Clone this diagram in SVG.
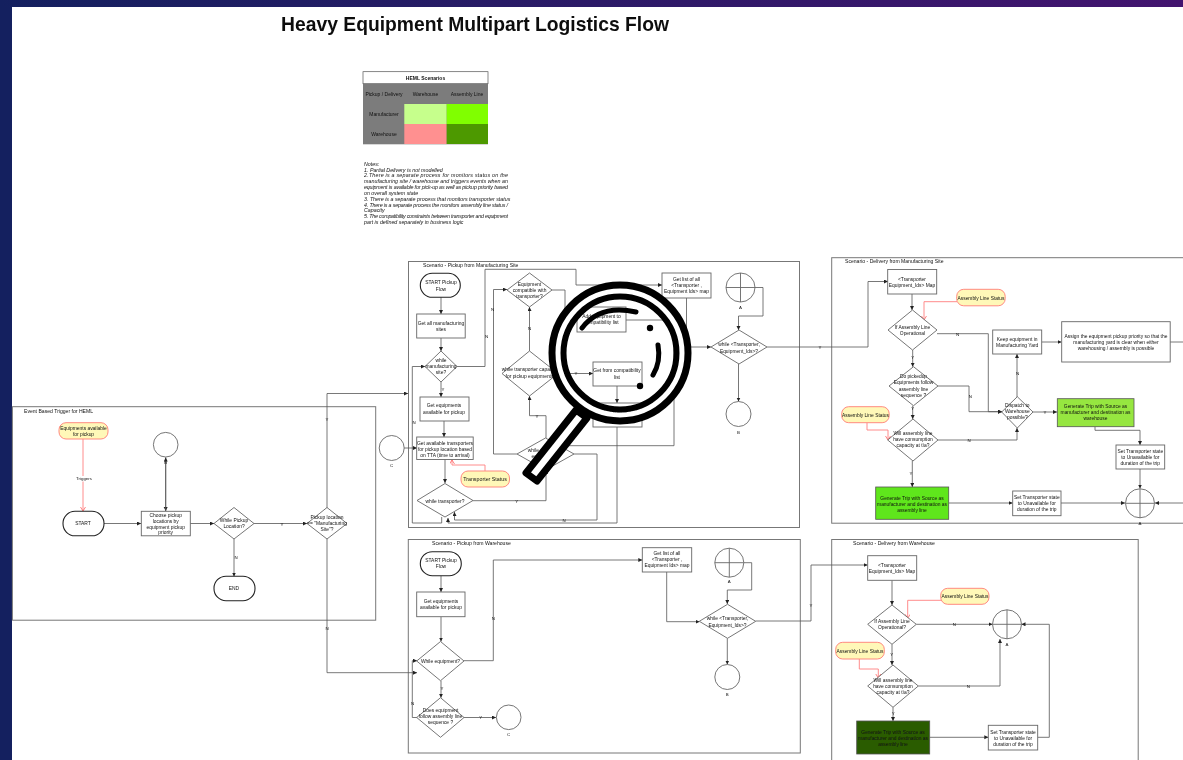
<svg xmlns="http://www.w3.org/2000/svg" width="1183" height="760" viewBox="0 0 1183 760">
<style>
text{font-family:"Liberation Sans",Arial,sans-serif;font-size:4.9px;fill:#111;text-anchor:middle}
.t{text-anchor:start}
.b{fill:#fff;stroke:#777;stroke-width:1}
.f{fill:#fff;stroke:#666;stroke-width:.9}
.x{fill:none;stroke:#666;stroke-width:.9}
.p{fill:#fff;stroke:#222;stroke-width:1.1}
.n{fill:#fff8b8;stroke:#ff8a80;stroke-width:1}
.c{fill:none;stroke:#555;stroke-width:.8}
.r{fill:none;stroke:#ff7f7f;stroke-width:.9}
.lab{font-size:4.4px}
.tb{font-size:5px}
.fr{font-size:5.1px}
.nt{font-size:5.3px;font-style:italic;text-anchor:start}
</style>
<defs>
<linearGradient id="bar" x1="0" x2="1" y1="0" y2="0"><stop offset="0" stop-color="#14205f"/><stop offset="1" stop-color="#43146f"/></linearGradient>
<filter id="soft" filterUnits="userSpaceOnUse" x="0" y="0" width="1183" height="760"><feGaussianBlur stdDeviation=".35"/></filter>
<marker id="a" markerWidth="5" markerHeight="5" refX="4" refY="2" orient="auto" markerUnits="userSpaceOnUse"><path d="M0 0L4 2L0 4z" fill="#222"/></marker>
<marker id="ar" markerWidth="6" markerHeight="6" refX="4" refY="2.500" orient="auto" markerUnits="userSpaceOnUse"><path d="M0 0L4 2.500L0 5" fill="none" stroke="#f66" stroke-width=".8"/></marker>
</defs>
<rect width="1183" height="760" fill="#fff"/>
<rect width="12" height="760" fill="#14205f"/>
<rect width="1183" height="7" fill="url(#bar)"/>
<g filter="url(#soft)">
<text id="title" x="475" y="31" style="font-size:19.300px;font-weight:bold">Heavy Equipment Multipart Logistics Flow</text>

<g id="scenario-table">
<rect x="363" y="71.700" width="125" height="12" fill="#fff" stroke="#555" stroke-width=".7"/>
<rect x="363" y="83.700" width="125" height="60.600" fill="#7c7c7c"/>
<rect x="404.300" y="104" width="42.400" height="20" fill="#c6ff8c"/>
<rect x="446.700" y="104" width="41.300" height="20" fill="#80ff00"/>
<rect x="404.300" y="124" width="42.400" height="20" fill="#ff9090"/>
<rect x="446.700" y="124" width="41.300" height="20" fill="#4d9900"/>
<text x="425.500" y="79.500" class="tb" style="font-weight:bold">HEML Scenarios</text>
<text x="384" y="95.500" class="tb">Pickup / Delivery</text><text x="425.500" y="95.500" class="tb">Warehouse</text><text x="467" y="95.500" class="tb">Assembly Line</text>
<text x="384" y="115.500" class="tb">Manufacturer</text><text x="384" y="135.700" class="tb">Warehouse</text>
</g>
<g id="notes">
<text class="nt" x="364" y="165.500">Notes:</text>
<text class="nt" x="364" y="171.500">1. Partial Delivery  is not modelled</text>
<text class="nt" x="364" y="177" textLength="144">2.There is a separate process for monitors status on the</text>
<text class="nt" x="364" y="183" textLength="144">manufacturing site / warehouse and triggers events when an</text>
<text class="nt" x="364" y="189" textLength="144">equipment is available for pick-up as well as pickup priority based</text>
<text class="nt" x="364" y="195">on overall system state</text>
<text class="nt" x="364" y="200.500">3. There is a separate process that monitors transporter status</text>
<text class="nt" x="364" y="206.500" textLength="144">4. There is a separate process the monitors assembly line status /</text>
<text class="nt" x="364" y="212">Capacity</text>
<text class="nt" x="364" y="218" textLength="144">5. The compatibility constraints between transporter and equipment</text>
<text class="nt" x="364" y="224">part is defined separately in business logic</text>
</g>

<g id="frames">
<rect class="b" x="12.400" y="406.700" width="363.300" height="213.500"/>
<rect class="b" x="408.500" y="261.500" width="391" height="266"/>
<rect class="b" x="408.300" y="539.500" width="392" height="213.500"/>
<rect class="b" x="831.700" y="257.700" width="360" height="265.500"/>
<rect class="b" x="831.700" y="539.500" width="306.500" height="225"/>
<text class="t fr" x="24" y="412.500">Event Based Trigger for HEML</text>
<text class="t fr" x="423" y="267">Scenario - Pickup from Manufacturing Site</text>
<text class="t fr" x="845" y="263">Scenario - Delivery from Manufacturing Site</text>
<text class="t fr" x="432" y="545">Scenario - Pickup from Warehouse</text>
<text class="t fr" x="853" y="545">Scenario - Delivery from Warehouse</text>
</g>

<g id="connectors">
<path class="r" marker-end="url(#ar)" d="M83 439V511"/>
<path class="c" marker-end="url(#a)" d="M104 523.500H141"/>
<path class="c" marker-end="url(#a)" d="M165.700 457.500V511"/>
<path class="c" marker-end="url(#a)" d="M165.700 511V457.500"/>
<path class="c" marker-end="url(#a)" d="M190 523.500H214"/>
<path class="c" marker-end="url(#a)" d="M254 523.500H307"/>
<path class="c" marker-end="url(#a)" d="M234 539V576.500"/>
<path class="c" marker-end="url(#a)" d="M327 508V393.500H408"/>
<path class="c" marker-end="url(#a)" d="M327 539V672.700H417"/>
<path class="c" marker-end="url(#a)" d="M404 448H417"/>
<path class="c" marker-end="url(#a)" d="M441 297V314"/>
<path class="c" marker-end="url(#a)" d="M441 338V351"/>
<path class="c" marker-end="url(#a)" d="M441 382V397"/>
<path class="c" marker-end="url(#a)" d="M444 421V437"/>
<path class="c" marker-end="url(#a)" d="M445 459V483"/>
<path class="c" marker-end="url(#a)" d="M457 366.500H485V269.300H576V285H662"/>
<path class="c" marker-end="url(#a)" d="M441.700 517V523H412.300V366.500H425"/>
<path class="c" marker-end="url(#a)" d="M473 500.700H546V470"/>
<path class="c" marker-end="url(#a)" d="M546 438V415.700H529.500V396"/>
<path class="c" marker-end="url(#a)" d="M529.500 351V307"/>
<path class="c" marker-end="url(#a)" d="M517 454H493.500V289.500H507"/>
<path class="c" marker-end="url(#a)" d="M552 290H565V320H577"/>
<path class="c" marker-end="url(#a)" d="M558 373.500H593"/>
<path class="c" marker-end="url(#a)" d="M617 386V403"/>
<path class="c" marker-end="url(#a)" d="M626 320H674V445.700H563"/>
<path class="c" marker-end="url(#a)" d="M686.500 298V347H711"/>
<path class="c" marker-end="url(#a)" d="M617 427V523H448V518"/>
<path class="c" marker-end="url(#a)" d="M574 454H597V520H454.500V512"/>
<path class="c" marker-end="url(#a)" d="M755 287.500H763V316H738.500V330"/>
<path class="c" marker-end="url(#a)" d="M738.500 364V401.500"/>
<path class="c" marker-end="url(#a)" d="M767 347H868V281.500H888"/>
<path class="r" marker-end="url(#ar)" d="M957 301.700H924V320"/>
<path class="r" marker-end="url(#ar)" d="M485 471V465H452V460"/>
<path class="r" marker-end="url(#ar)" d="M867 422.700V430H888V440"/>
<path class="c" marker-end="url(#a)" d="M912 294V310"/>
<path class="c" marker-end="url(#a)" d="M912.700 350V366.700"/>
<path class="c" marker-end="url(#a)" d="M912.700 405.700V419"/>
<path class="c" marker-end="url(#a)" d="M912.300 461V487"/>
<path class="c" marker-end="url(#a)" d="M937 333.700H988.300V411.700H1002"/>
<path class="c" marker-end="url(#a)" d="M938 386H969V411.700H1002"/>
<path class="c" marker-end="url(#a)" d="M938 440H1017V428"/>
<path class="c" marker-end="url(#a)" d="M1017 397V354"/>
<path class="c" marker-end="url(#a)" d="M1033 412H1057"/>
<path class="c" marker-end="url(#a)" d="M1041.700 342H1061.500"/>
<path class="c" d="M1170 342H1183"/>
<path class="c" marker-end="url(#a)" d="M1095 426.700V430.300H1140V445"/>
<path class="c" marker-end="url(#a)" d="M1140 469V488.500"/>
<path class="c" marker-end="url(#a)" d="M948.700 503H1012.700"/>
<path class="c" marker-end="url(#a)" d="M1061 503H1125"/>
<path class="c" marker-end="url(#a)" d="M1183 503H1155"/>
<path class="c" marker-end="url(#a)" d="M441 575.700V592"/>
<path class="c" marker-end="url(#a)" d="M441 616.700V641.500"/>
<path class="c" marker-end="url(#a)" d="M441 680.700V697.700"/>
<path class="c" marker-end="url(#a)" d="M464 660.700H493.300V560H642.300"/>
<path class="c" marker-end="url(#a)" d="M417 717.500H412.300V660.700H417"/>
<path class="c" marker-end="url(#a)" d="M464 717.500H496"/>
<path class="c" marker-end="url(#a)" d="M666.700 572V621.700H699.500"/>
<path class="c" marker-end="url(#a)" d="M744 562.700H751.700V590H727.300V604"/>
<path class="c" marker-end="url(#a)" d="M727.300 638.300V664.500"/>
<path class="c" marker-end="url(#a)" d="M755.700 621H811V565H867.700"/>
<path class="c" marker-end="url(#a)" d="M892 580.300V605"/>
<path class="c" marker-end="url(#a)" d="M892 644.300V665"/>
<path class="c" marker-end="url(#a)" d="M893 707.300V721"/>
<path class="c" marker-end="url(#a)" d="M916.300 624.300H992.500"/>
<path class="c" marker-end="url(#a)" d="M918.300 686H1000V639"/>
<path class="c" marker-end="url(#a)" d="M929.700 737.300H988.300"/>
<path class="c" marker-end="url(#a)" d="M1037.700 737.300H1049.300V624.300H1021.500"/>
<path class="r" marker-end="url(#ar)" d="M941 600.300H907.700V618.300"/>
<path class="r" marker-end="url(#ar)" d="M859.300 659V669H878.300V678"/>
</g>

<g id="equipments-note"><rect class="n" x="59" y="422.700" width="49" height="16.300" rx="7"/><text x="83.500" y="429.500">Equipments available</text><text x="83.500" y="435.500">for pickup</text></g>
<g id="start"><rect class="p" x="63" y="511.300" width="41" height="24.500" rx="12"/><text x="83" y="525">START</text></g>
<g id="choose"><rect class="f" x="141.300" y="511.300" width="49" height="24.500"/><text x="165.700" y="516.800">Choose pickup</text><text x="165.700" y="522.600">locations by</text><text x="165.700" y="528.600">equipment pickup</text><text x="165.700" y="534.300">priority</text></g>
<g id="b-circle"><circle class="f" cx="165.700" cy="444.700" r="12.300"/><text x="165.700" y="463.500" class="lab">B</text></g>
<g id="while-pickup"><polygon class="f" points="234,507.500 254,523.500 234,539 214,523.500"/><text x="234" y="521.500">While  Pickup</text><text x="234" y="528">Location?</text></g>
<g id="location"><polygon class="f" points="327,507.500 347,523.500 327,539 307,523.500"/><text x="327" y="519">Pickup location</text><text x="327" y="525.200">== "Manufacturing</text><text x="327" y="531">Site"?</text></g>
<g id="end"><rect class="p" x="214" y="576.200" width="41" height="24.500" rx="12"/><text x="234" y="589.500">END</text></g>
<g id="c-circle"><circle class="f" cx="391.700" cy="448" r="12.500"/><text x="391.700" y="467" class="lab">C</text></g>

<g id="mfg-start"><rect class="p" x="420.300" y="273.300" width="40" height="24" rx="12"/><text x="441" y="284">START Pickup</text><text x="441" y="290.500">Flow</text></g>
<g id="mfg-sites"><rect class="f" x="416.700" y="314" width="48.500" height="24"/><text x="441" y="325">Get all manufacturing</text><text x="441" y="331">sites</text></g>
<g id="while-mfg"><polygon class="f" points="441,351 457,366.500 441,382 425,366.500"/><text x="441" y="362">while</text><text x="441" y="368">manufacturing</text><text x="441" y="374">site?</text></g>
<g id="mfg-equip"><rect class="f" x="420" y="397" width="49" height="24"/><text x="444" y="407">Get equipments</text><text x="444" y="413.500">available for pickup</text></g>
<g id="mfg-trans"><rect class="f" x="416.700" y="437" width="56.500" height="22.500"/><text x="445" y="444.500">Get available transporters</text><text x="445" y="450.500">for pickup location based</text><text x="445" y="456.500">on  TTA (time to arrival)</text></g>
<g id="trans-status"><rect class="n" x="461" y="471" width="48.500" height="16" rx="7"/><text x="485" y="480.500" style="font-size:5.300px">Transporter Status</text></g>
<g id="while-trans"><polygon class="f" points="445,483.500 473,500.500 445,517 417,500.500"/><text x="445" y="502.500">while transporter?</text></g>
<g id="compat"><polygon class="f" points="529.500,273 552,290 529.500,307 507,290"/><text x="529.500" y="286">Equipment</text><text x="529.500" y="292">compatible with</text><text x="529.500" y="298">transporter?</text></g>
<g id="capacity"><polygon class="f" points="529.500,351 558,373.500 529.500,396 502,373.500"/><text x="529.500" y="371">while transporter capacity</text><text x="529.500" y="378">for pickup equipments</text></g>
<g id="while-equip"><polygon class="f" points="545.500,438 574,454 545.500,470 517,454"/><text x="545.500" y="452">while equipment</text><text x="545.500" y="458">equipments?</text></g>
<g id="add-compat"><rect class="f" x="577" y="307" width="49" height="25"/><text x="601.500" y="318">Add equipment to</text><text x="601.500" y="324">compatibility list</text></g>
<g id="get-compat"><rect class="f" x="593" y="362" width="49" height="24"/><text x="617" y="372">Get from compatibility</text><text x="617" y="378.500">list</text></g>
<g id="add-map"><rect class="f" x="593" y="403" width="49" height="24"/><text x="617" y="413">Add  to &lt;Transporter ,</text><text x="617" y="419">Equipment Ids&gt; map</text></g>
<g id="mfg-list"><rect class="f" x="662" y="273" width="49" height="25"/><text x="686.500" y="281">Get list of all</text><text x="686.500" y="287">&lt;Transporter ,</text><text x="686.500" y="293">Equipment Ids&gt; map</text></g>
<g id="mfg-a"><circle class="f" cx="740.500" cy="287.500" r="14.500"/><path class="x" d="M726 287.500H755M740.500 273V302"/><text x="740.500" y="309" class="lab">A</text></g>
<g id="mfg-while-map"><polygon class="f" points="739,330 767,347 739,364 711,347"/><text x="739" y="346">while &lt;Transporter,</text><text x="739" y="352.500">Equipment_Ids&gt;?</text></g>
<g id="mfg-b"><circle class="f" cx="738.500" cy="414" r="12.500"/><text x="738.500" y="433.500" class="lab">B</text></g>

<g id="del-map"><rect class="f" x="887.700" y="269.500" width="49" height="24.500"/><text x="912" y="280.500">&lt;Transporter</text><text x="912" y="286.500">Equipment_Ids&gt; Map</text></g>
<g id="asm1"><rect class="n" x="956.700" y="289.300" width="48.500" height="16.500" rx="7"/><text x="981" y="299.500">Assembly Line Status</text></g>
<g id="del-oper"><polygon class="f" points="912.500,310 937,330 912.500,350 888,330"/><text x="912.500" y="329">If Assembly Line</text><text x="912.500" y="335">Operational</text></g>
<g id="del-seq"><polygon class="f" points="913.500,366.700 938,386 913.500,405.700 889,386"/><text x="913.500" y="378">Do  pickedup</text><text x="913.500" y="384">Equipments follow</text><text x="913.500" y="391">assembly line</text><text x="913.500" y="397">sequence ?</text></g>
<g id="asm2"><rect class="n" x="841.700" y="406.700" width="47.500" height="16" rx="7"/><text x="865.500" y="416.500">Assembly Line Status</text></g>
<g id="del-cap"><polygon class="f" points="913,419 938,440 913,461 887.700,440"/><text x="913" y="435">Will assembly line</text><text x="913" y="441">have consumption</text><text x="913" y="447">capacity at t\a?</text></g>
<g id="del-trip"><rect x="875.700" y="487" width="73" height="32.300" fill="#5fe61a" stroke="#555" stroke-width=".8"/><text x="912" y="500">Generate Trip with Source as</text><text x="912" y="506">manufacturer and destination as</text><text x="912" y="512">assembly line</text></g>
<g id="del-keep"><rect class="f" x="992.700" y="330" width="49" height="24"/><text x="1017.200" y="341">Keep equipment in</text><text x="1017.200" y="347">Manufacturing Yard</text></g>
<g id="del-assign"><rect class="f" x="1061.700" y="321.700" width="108.500" height="40.300"/><text x="1116" y="338">Assign the equipment pickup priority so that the</text><text x="1116" y="344">manufacturing yard is clear when either</text><text x="1116" y="350">warehousing / assembly is possible</text></g>
<g id="del-dispatch"><polygon class="f" points="1017.300,396.700 1033,412 1017.300,428 1001.700,412"/><text x="1017.300" y="407">Dispatch to</text><text x="1017.300" y="413">Warehouse</text><text x="1017.300" y="419">possible?</text></g>
<g id="del-wh-trip"><rect x="1057.300" y="398.700" width="76.700" height="28" fill="#96e640" stroke="#555" stroke-width=".8"/><text x="1095.500" y="408">Generate  Trip with Source as</text><text x="1095.500" y="414">manufacturer and destination as</text><text x="1095.500" y="420">warehouse</text></g>
<g id="del-set1"><rect class="f" x="1116" y="445" width="48.700" height="24"/><text x="1140.300" y="453">Set Transporter state</text><text x="1140.300" y="459">to Unavailable for</text><text x="1140.300" y="465">duration of the trip</text></g>
<g id="del-set2"><rect class="f" x="1012.700" y="491" width="48.300" height="24.700"/><text x="1036.800" y="499">Set Transporter state</text><text x="1036.800" y="505">to Unavailable for</text><text x="1036.800" y="511">duration of the trip</text></g>
<g id="del-a"><circle class="f" cx="1140" cy="503.300" r="14.500"/><path class="x" d="M1125.500 503.300H1154.500M1140 488.800V517.800"/><text x="1140" y="525" class="lab">A</text></g>

<g id="wh-start"><rect class="p" x="420.300" y="551.700" width="41" height="24" rx="12"/><text x="441" y="561.500">START Pickup</text><text x="441" y="568">Flow</text></g>
<g id="wh-equip"><rect class="f" x="416.700" y="592" width="48.300" height="24.700"/><text x="441" y="603">Get equipments</text><text x="441" y="609">available for pickup</text></g>
<g id="wh-while"><polygon class="f" points="440.500,641.500 464,661 440.500,680.700 416.700,661"/><text x="440.500" y="662.700">While equipment?</text></g>
<g id="wh-seq"><polygon class="f" points="440.500,697.700 464,717.500 440.500,737.300 416.700,717.500"/><text x="440.500" y="712">Does equipment</text><text x="440.500" y="718">follow assembly line</text><text x="440.500" y="724">sequence ?</text></g>
<g id="wh-c"><circle class="f" cx="508.700" cy="717.300" r="12.300"/><text x="508.700" y="736" class="lab">C</text></g>
<g id="wh-list"><rect class="f" x="642.300" y="547.700" width="49.400" height="24.300"/><text x="667" y="555">Get list of all</text><text x="667" y="561">&lt;Transporter ,</text><text x="667" y="567">Equipment Ids&gt; map</text></g>
<g id="wh-a"><circle class="f" cx="729.300" cy="562.700" r="14.500"/><path class="x" d="M714.800 562.700H743.800M729.300 548.200V577.200"/><text x="729.300" y="583" class="lab">A</text></g>
<g id="wh-while-map"><polygon class="f" points="727.500,604.300 755.700,621.300 727.500,638.300 699.300,621.300"/><text x="727.500" y="620">while &lt;Transporter,</text><text x="727.500" y="626.500">Equipment_Ids&gt;?</text></g>
<g id="wh-b"><circle class="f" cx="727.300" cy="677" r="12.500"/><text x="727.300" y="696" class="lab">B</text></g>

<g id="dw-map"><rect class="f" x="867.700" y="555.700" width="49" height="24.600"/><text x="892" y="566.500">&lt;Transporter</text><text x="892" y="572.500">Equipment_Ids&gt; Map</text></g>
<g id="dw-asm1"><rect class="n" x="940.700" y="588.300" width="48.300" height="16" rx="7"/><text x="965" y="598">Assembly Line Status</text></g>
<g id="dw-oper"><polygon class="f" points="892,605 916.300,624.300 892,644.300 867.700,624.300"/><text x="892" y="623">If Assembly Line</text><text x="892" y="629">Operational?</text></g>
<g id="dw-asm2"><rect class="n" x="835.700" y="642.300" width="48.600" height="16.700" rx="7"/><text x="860" y="652.500">Assembly Line Status</text></g>
<g id="dw-cap"><polygon class="f" points="893,665 918.300,686 893,707.300 867.700,686"/><text x="893" y="682">Will assembly line</text><text x="893" y="688">have consumption</text><text x="893" y="694">capacity at t\a?</text></g>
<g id="dw-trip"><rect x="856.700" y="721" width="73" height="33" fill="#2b5c00" stroke="#555" stroke-width=".8"/><text x="893" y="733.500">Generate Trip with Source as</text><text x="893" y="739.500">manufacturer and destination as</text><text x="893" y="745.500">assembly line</text></g>
<g id="dw-set"><rect class="f" x="988.300" y="725.300" width="49.400" height="24.700"/><text x="1013" y="733.500">Set Transporter state</text><text x="1013" y="739.500">to Unavailable for</text><text x="1013" y="745.500">duration of the trip</text></g>
<g id="dw-a"><circle class="f" cx="1007" cy="624.300" r="14.500"/><path class="x" d="M1007 609.800V638.800M992.500 624.300H1021.500"/><text x="1007" y="645.500" class="lab">A</text></g>

<g id="edge-labels">
<rect x="75" y="476" width="17" height="5.500" fill="#fff"/>
<text class="lab" x="84" y="480">Triggers</text>
<text class="lab" x="327" y="421">Y</text><text class="lab" x="327" y="630">N</text><text class="lab" x="282" y="525.500">Y</text><text class="lab" x="236" y="559">N</text>
<text class="lab" x="486.500" y="338">N</text><text class="lab" x="443" y="391">Y</text><text class="lab" x="414" y="424">N</text><text class="lab" x="516.700" y="503">Y</text><text class="lab" x="564" y="522">N</text>
<text class="lab" x="529.500" y="330">N</text><text class="lab" x="492.500" y="311">N</text><text class="lab" x="537" y="418">Y</text><text class="lab" x="576" y="375">Y</text><text class="lab" x="820" y="349">Y</text>
<text class="lab" x="957.500" y="335.500">N</text><text class="lab" x="912.700" y="358.500">Y</text><text class="lab" x="970.300" y="398">N</text><text class="lab" x="912.700" y="410">Y</text><text class="lab" x="969" y="441.500">N</text><text class="lab" x="911" y="475">Y</text><text class="lab" x="1017.700" y="375">N</text><text class="lab" x="1045" y="414">Y</text>
<text class="lab" x="493.300" y="620">N</text><text class="lab" x="442" y="690">Y</text><text class="lab" x="412.700" y="705">N</text><text class="lab" x="480.700" y="719">Y</text><text class="lab" x="811" y="607">Y</text>
<text class="lab" x="954.300" y="626">N</text><text class="lab" x="891.700" y="656">Y</text><text class="lab" x="968.300" y="688">N</text><text class="lab" x="893.300" y="715">Y</text>
</g>

<g id="magnifier" fill="none" stroke="#000" stroke-linecap="round">
<circle cx="620" cy="353" r="62.500" stroke="#fff" stroke-width="6"/>
<circle cx="620" cy="353" r="68" stroke-width="7"/>
<circle cx="620" cy="353" r="56.500" stroke-width="6"/>
<path d="M582 328Q600 304 636 312" stroke-width="5"/>
<path d="M658 345Q661 362 653 375" stroke-width="5"/>
<circle cx="650" cy="328" r="3.200" fill="#000" stroke="none"/>
<circle cx="640" cy="386" r="3.200" fill="#000" stroke="none"/>
<path d="M576 410L526 473L537 481L587 418Z" stroke-width="7" stroke-linejoin="round" fill="#fff"/>
</g>
</g>
</svg>
